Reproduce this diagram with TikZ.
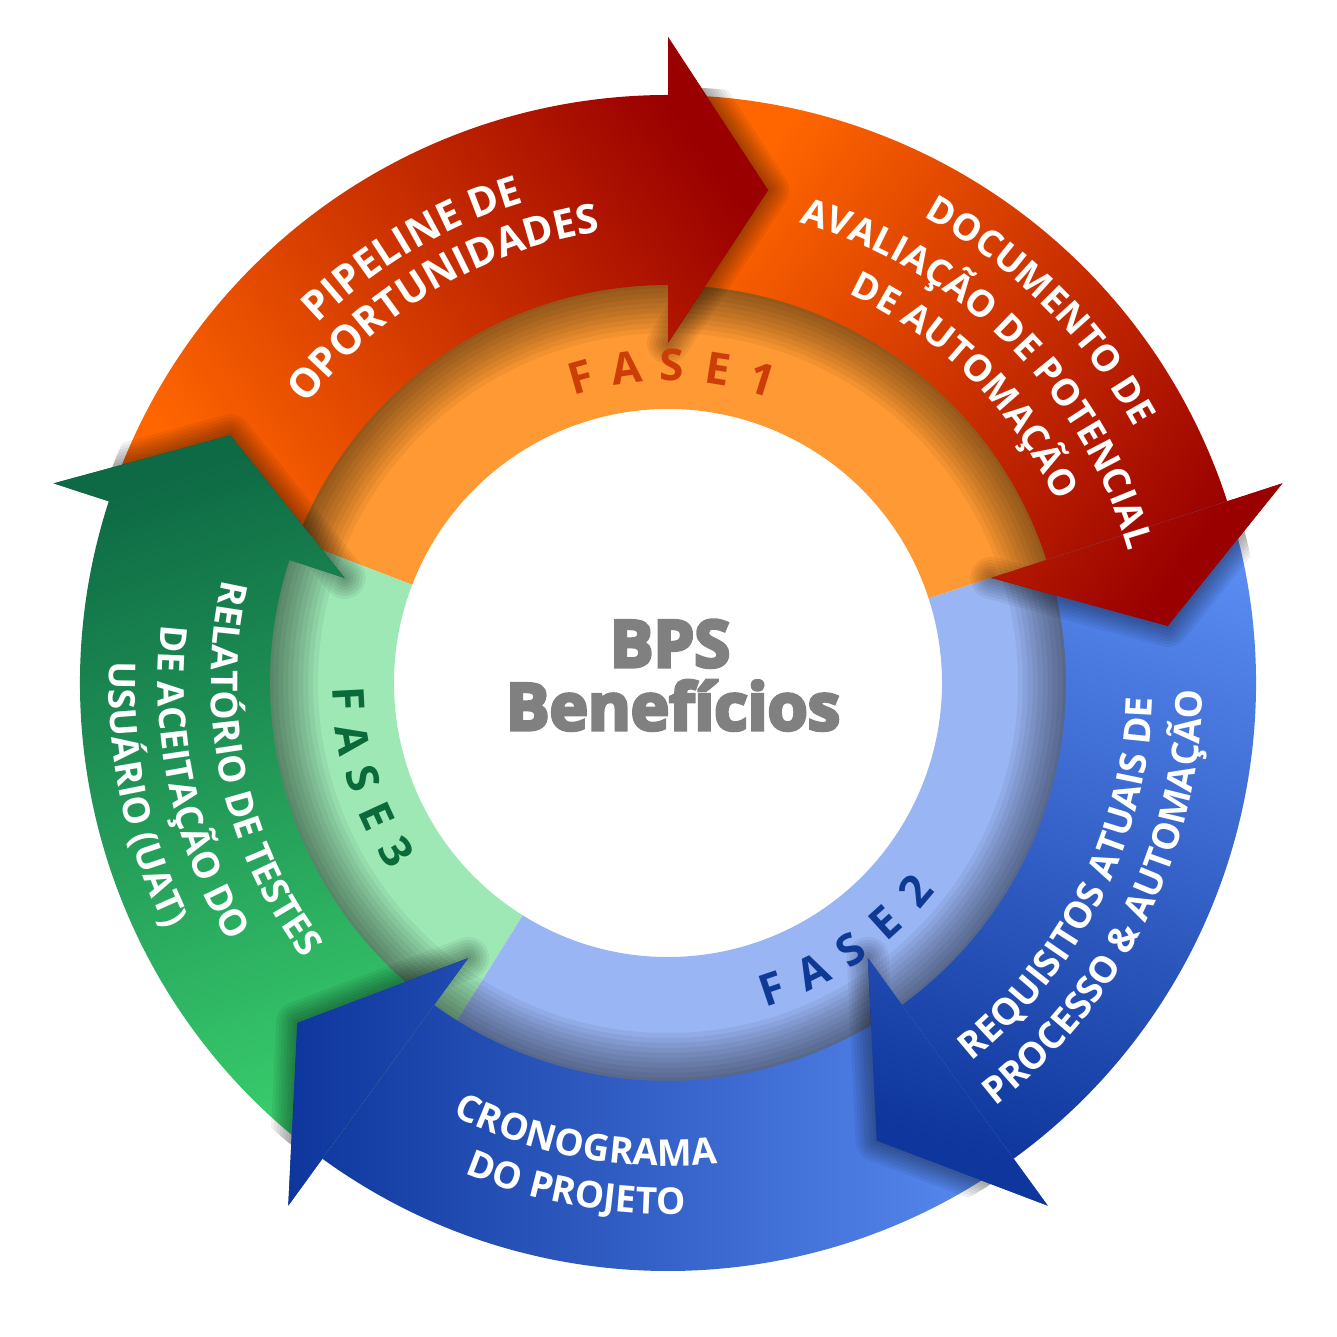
\documentclass[tikz,border=0pt]{standalone}
\usepackage{fontspec}
\setmainfont{Open Sans}
\newfontfamily\bpsfont{Open Sans}[BoldFeatures={FakeBold=5}]
\usetikzlibrary{decorations.text}

\definecolor{orgA}{HTML}{FF6600}
\definecolor{redA}{HTML}{9A0000}
\definecolor{bluL}{HTML}{5A8CF2}
\definecolor{bluD}{HTML}{0E369C}
\definecolor{grnL}{HTML}{38CC6C}
\definecolor{grnD}{HTML}{0E6A45}
\definecolor{orgband}{HTML}{FF9933}
\definecolor{bluband}{HTML}{99B5F4}
\definecolor{grnband}{HTML}{9EE8B6}
\definecolor{fase1}{HTML}{CC3D08}
\definecolor{fase2}{HTML}{0E3A95}
\definecolor{fase3}{HTML}{0A6A3A}
\definecolor{bpsgrey}{HTML}{808080}

\newcommand{\lblfont}{\fontsize{10.5}{12}\selectfont\bfseries}
\newcommand{\biglblfont}{\fontsize{11.5}{13}\selectfont\bfseries}
\newcommand{\fasefont}{\fontsize{12.5}{14}\selectfont\bfseries}

% arrow with head base at angle #1, body 72 degrees long
\newcommand{\arrowshape}[1]{(#1+72:588) arc[start angle=#1+72, end angle=#1, radius=588] -- (#1:646) -- (#1-11.5:503) -- (#1:340) -- (#1:398) arc[start angle=#1, end angle=#1+72, radius=398] -- cycle}
\newcommand{\tipedge}[1]{(#1:646) -- (#1-11.5:503) -- (#1:340)}
\newcommand{\tipshape}[1]{(#1:646) -- (#1-11.5:503) -- (#1:340) -- cycle}

\tikzset{
  arrA/.style={top color=orgA, bottom color=redA, shading angle=126},
  arrB/.style={top color=orgA, bottom color=redA, shading angle=54},
  arrC/.style={top color=bluL, bottom color=bluD, shading angle=-18},
  arrD/.style={top color=bluL, bottom color=bluD, shading angle=-90},
  arrE/.style={top color=grnL, bottom color=grnD, shading angle=198},
  ringshadow/.style={black, opacity=0.05},
  headshadow/.style={black, opacity=0.055, line join=round, line cap=round},
  lbl/.style={decorate, decoration={text along path, text align=center, text color=white, text={|\lblfont|#1}}},
  biglbl/.style={decorate, decoration={text along path, text align=center, text color=white, text={|\biglblfont|#1}}},
  fase/.style={font=\fasefont, inner sep=0pt},
  ctext/.style={font=\bpsfont\fontsize{18.5}{20}\selectfont\bfseries, text=bpsgrey, anchor=base}
}

\begin{document}
\begin{tikzpicture}[x=0.01cm, y=0.01cm]

\useasboundingbox (-668,-654) rectangle (669,683);

% inner band
\fill[orgband] (18:274) arc[start angle=18, end angle=159, radius=274] -- (159:400) arc[start angle=159, end angle=18, radius=400] -- cycle;
\fill[grnband] (159:274) arc[start angle=159, end angle=238, radius=274] -- (238:400) arc[start angle=238, end angle=159, radius=400] -- cycle;
\fill[bluband] (238:274) arc[start angle=238, end angle=378, radius=274] -- (378:400) arc[start angle=378, end angle=238, radius=400] -- cycle;

\foreach \w in {10,20,...,100}
  \draw[ringshadow, line width=\w*0.1mm] (0,0) circle[radius=400];

% outer arrows
\shade[arrA] \arrowshape{90};
\shade[arrB] \arrowshape{18};
\shade[arrC] \arrowshape{-54};
\shade[arrD] \arrowshape{-126};
\shade[arrE] \arrowshape{162};

% heads on top, with their shadows
\begin{scope}
\clip (0,0) circle[radius=596];
\foreach \a in {90,18,-54,-126,162}
  \foreach \w in {6,12,...,42}
    \draw[headshadow, line width=\w*0.1mm] \tipedge{\a};
\end{scope}

\begin{scope} \clip \tipshape{90}; \shade[arrA] \arrowshape{90}; \end{scope}
\begin{scope} \clip \tipshape{18}; \shade[arrB] \arrowshape{18}; \end{scope}
\begin{scope} \clip \tipshape{-54}; \shade[arrC] \arrowshape{-54}; \end{scope}
\begin{scope} \clip \tipshape{-126}; \shade[arrD] \arrowshape{-126}; \end{scope}
\begin{scope} \clip \tipshape{162}; \shade[arrE] \arrowshape{162}; \end{scope}

% labels on the arrows
\path[biglbl={PIPELINE DE}] (170.5:502) arc[start angle=170.5, end angle=70.5, radius=502];
\path[biglbl={OPORTUNIDADES}] (170.5:456) arc[start angle=170.5, end angle=70.5, radius=456];

\path[lbl={DOCUMENTO DE}] (95:532) arc[start angle=95, end angle=-5, radius=532];
\path[lbl={AVALIAÇÃO DE POTENCIAL}] (95:479) arc[start angle=95, end angle=-5, radius=479];
\path[lbl={DE AUTOMAÇÃO}] (95:429) arc[start angle=95, end angle=-5, radius=429];

\path[lbl={REQUISITOS ATUAIS DE}] (-76.5:485) arc[start angle=-76.5, end angle=23.5, radius=485];
\path[lbl={PROCESSO {\&} AUTOMAÇÃO}] (-76.5:535) arc[start angle=-76.5, end angle=23.5, radius=535];

\path[lbl={CRONOGRAMA}] (-150.3:483) arc[start angle=-150.3, end angle=-50.3, radius=483];
\path[lbl={DO PROJETO}] (-150.3:531) arc[start angle=-150.3, end angle=-50.3, radius=531];

\path[lbl={RELATÓRIO DE TESTES}] (142:457) arc[start angle=142, end angle=242, radius=457];
\path[lbl={DE ACEITAÇÃO DO}] (142:510) arc[start angle=142, end angle=242, radius=510];
\path[lbl={USUÁRIO (UAT)}] (142:559) arc[start angle=142, end angle=242, radius=559];

% phase names
\foreach \ch [count=\i from 0] in {F,A,S,E,1}
  \node[fase, text=fase1, rotate=15.9-8.3*\i] (fa\i) at (105.9-8.3*\i:318) {\ch};
\foreach \ch [count=\i from 0] in {F,A,S,E,2}
  \node[fase, text=fase2, rotate=18.8+7.8*\i] (fb\i) at (-71.2+7.8*\i:323) {\ch};
\foreach \ch [count=\i from 0] in {F,A,S,E,3}
  \node[fase, text=fase3, rotate=272.9+7.25*\i] (fc\i) at (182.9+7.25*\i:320) {\ch};

% centre
\node[ctext] (bps) at (2,16) {BPS};
\node[ctext] (ben) at (5,-47) {Benefícios};

\end{tikzpicture}
\end{document}
